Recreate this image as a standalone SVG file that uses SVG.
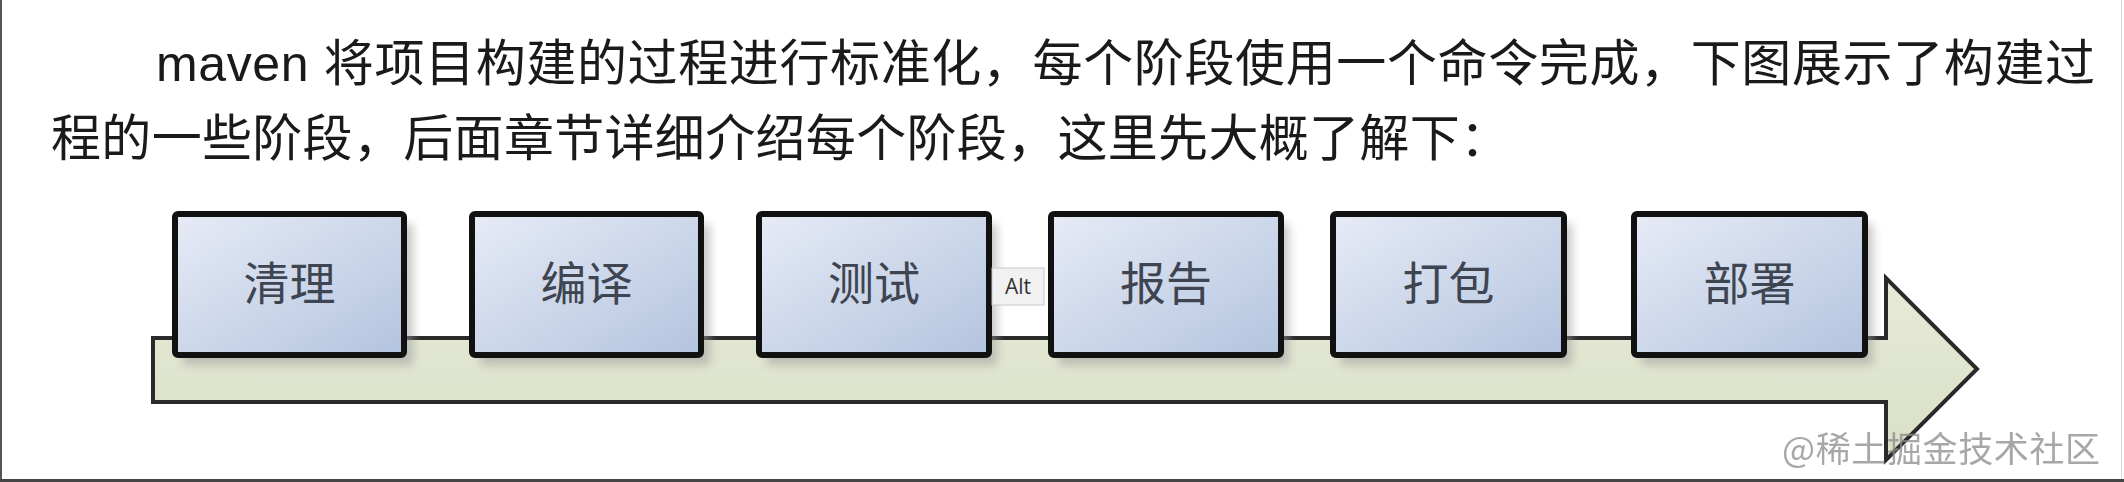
<svg xmlns="http://www.w3.org/2000/svg" width="2124" height="482" viewBox="0 0 2124 482">
  <defs>
    <linearGradient id="boxFill" x1="0" y1="0" x2="1" y2="1">
      <stop offset="0" stop-color="#e7ebf6"/>
      <stop offset="1" stop-color="#b3c4df"/>
    </linearGradient>
    <linearGradient id="arrowFill" x1="0" y1="0" x2="0" y2="1">
      <stop offset="0" stop-color="#e6ead8"/>
      <stop offset="1" stop-color="#dae0c6"/>
    </linearGradient>
    <filter id="shadow" x="-20%" y="-20%" width="140%" height="140%">
      <feGaussianBlur stdDeviation="5"/>
    </filter>
  </defs>
  <style>
    .para { font-family: "Liberation Sans Narrow", "Liberation Sans", "Noto Sans CJK SC", sans-serif; font-size: 50px; fill: #1a1a1a; }
    .box { fill: url(#boxFill); stroke: #111; stroke-width: 6; }
    .shadow { fill: #9a9a9a; opacity: 0.55; filter: url(#shadow); }
    .label { font-family: "Liberation Serif", "Noto Sans CJK SC", serif; font-size: 46px; fill: #3e4450; text-anchor: middle; }
    .arrow { fill: url(#arrowFill); stroke: #2a2a2a; stroke-width: 4; stroke-linejoin: miter; }
    .wm { font-family: "Noto Sans CJK SC", sans-serif; font-size: 35px; fill: #8a8a8a; opacity: 0.75; }
  </style>
  <rect x="0" y="0" width="2124" height="482" fill="#ffffff"/>

  <g id="paragraph">
    <text class="para" x="156" y="81" textLength="1939" lengthAdjust="spacing">maven 将项目构建的过程进行标准化，每个阶段使用一个命令完成，下图展示了构建过</text>
    <text class="para" x="51" y="156" textLength="1459" lengthAdjust="spacing">程的一些阶段，后面章节详细介绍每个阶段，这里先大概了解下：</text>
  </g>

  <g id="connectors">
    <path class="arrow" d="M153 338 L1886 338 L1886 278 L1977 369 L1886 460 L1886 402 L153 402 Z"/>
  </g>

  <g id="node-clean">
    <rect class="shadow" x="183" y="224" width="230" height="141"/>
    <rect class="box" x="175" y="214" width="229" height="141" rx="3"/>
    <text class="label" x="289.5" y="300">清理</text>
  </g>
  <g id="node-compile">
    <rect class="shadow" x="480" y="224" width="230" height="141"/>
    <rect class="box" x="472" y="214" width="229" height="141" rx="3"/>
    <text class="label" x="586.5" y="300">编译</text>
  </g>
  <g id="node-test">
    <rect class="shadow" x="767" y="224" width="230" height="141"/>
    <rect class="box" x="759" y="214" width="230" height="141" rx="3"/>
    <text class="label" x="874" y="300">测试</text>
  </g>
  <g id="node-report">
    <rect class="shadow" x="1059" y="224" width="230" height="141"/>
    <rect class="box" x="1051" y="214" width="230" height="141" rx="3"/>
    <text class="label" x="1166" y="300">报告</text>
  </g>
  <g id="node-package">
    <rect class="shadow" x="1341" y="224" width="231" height="141"/>
    <rect class="box" x="1333" y="214" width="231" height="141" rx="3"/>
    <text class="label" x="1448.5" y="300">打包</text>
  </g>
  <g id="node-deploy">
    <rect class="shadow" x="1642" y="224" width="231" height="141"/>
    <rect class="box" x="1634" y="214" width="231" height="141" rx="3"/>
    <text class="label" x="1749.5" y="300">部署</text>
  </g>

  <g id="alt-tooltip">
    <rect x="992" y="268" width="52" height="37" fill="#f1f1f1" stroke="#c8c8c8" stroke-width="1"/>
    <text x="1018" y="294" font-family="Open Sans, Liberation Sans, sans-serif" font-size="21" fill="#333" text-anchor="middle">Alt</text>
  </g>

  <g id="watermark">
    <text class="wm" x="1782" y="462" textLength="318" lengthAdjust="spacing">@稀土掘金技术社区</text>
  </g>

  <g id="frame">
    <rect x="0" y="0" width="2" height="482" fill="#555"/>
    <rect x="0" y="479" width="2124" height="3" fill="#444"/>
    <rect x="2121" y="0" width="1" height="479" fill="#d8d8d8"/>
  </g>
</svg>
